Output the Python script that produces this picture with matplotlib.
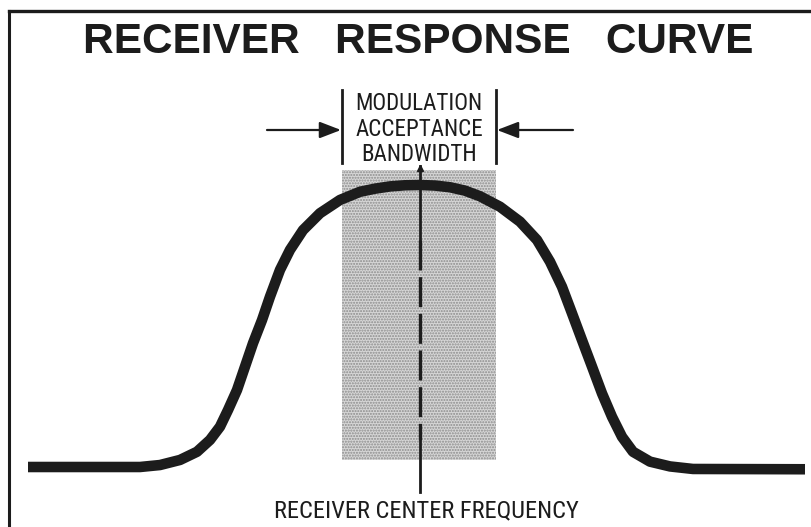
import matplotlib
matplotlib.use("Agg")
import matplotlib.pyplot as plt
from matplotlib.patches import Rectangle
from matplotlib.lines import Line2D

# receiver response (frequency offset from centre, relative response)
freq = [-392, -280, -260, -240, -223, -210, -200, -192, -183, -175, -167, -158, -150,
        -140, -130, -117, -100, -80, -60, -45, -30, -15, 0, 15, 30, 45, 60, 80, 100,
        117, 130, 142, 152, 162, 172, 182, 192, 202, 213, 230, 250, 273, 385]
resp = [0.0, 0.0, 0.007, 0.025, 0.054, 0.096, 0.143, 0.202, 0.273, 0.356, 0.439,
        0.521, 0.604, 0.699, 0.770, 0.840, 0.900, 0.947, 0.976, 0.987, 0.995, 0.999,
        1.0, 0.998, 0.992, 0.980, 0.960, 0.923, 0.870, 0.805, 0.728, 0.639, 0.545,
        0.450, 0.356, 0.261, 0.178, 0.107, 0.054, 0.019, 0.002, -0.007, -0.008]

band_edges = [-78, 76]          # modulation acceptance bandwidth
title = "RECEIVER   RESPONSE   CURVE"
band_label = "MODULATION\nACCEPTANCE\nBANDWIDTH"
centre_label = "RECEIVER CENTER FREQUENCY"

W, H = 811, 527
fig = plt.figure(figsize=(W / 100, H / 100), dpi=100)
fig.patch.set_facecolor("white")
ax = fig.add_axes([0, 0, 1, 1])
ax.set_xlim(-420, W - 420)
# pixel row 467 is the zero line, row 185 is the peak
top_px, base_px = 185, 467
scale = base_px - top_px
ax.set_ylim((base_px - H) / scale, base_px / scale)
ax.axis("off")

def y_of(px):
    return (base_px - px) / scale

narrow = ["Roboto Condensed", "DejaVu Sans"]
wide = ["Liberation Sans", "DejaVu Sans"]
ink = "#1c1c1c"

# frame (top and left edges of the scanned box)
fig.add_artist(Line2D([9 / W, 1], [1 - 11 / H] * 2, color=ink, lw=2.4))
fig.add_artist(Line2D([9 / W] * 2, [0, 1 - 11 / H], color=ink, lw=2.2))

# shaded bandwidth
ax.add_patch(Rectangle((band_edges[0], y_of(460)), band_edges[1] - band_edges[0],
                       y_of(170) - y_of(460), facecolor="#d6d6d6",
                       edgecolor="#8c8c8c", hatch="......", lw=0, zorder=1))

# centre frequency line: solid, dashed through the band, solid again
ax.plot([0, 0], [y_of(166), y_of(240)], color=ink, lw=2.0, zorder=2)
ax.plot([0, 0], [y_of(240), y_of(440)], color=ink, lw=2.4, zorder=2,
        dashes=(9, 2))
ax.plot([0, 0], [y_of(440), y_of(492)], color=ink, lw=2.0, zorder=2)
ax.plot([0], [y_of(168)], marker="^", ms=4, color=ink, zorder=2)

# response curve
ax.plot(freq, resp, color=ink, lw=7.6, solid_joinstyle="round",
        solid_capstyle="butt", zorder=3)

# bandwidth markers
for e in band_edges:
    ax.plot([e, e], [y_of(90), y_of(163)], color=ink, lw=2.0)
ax.annotate("", xy=(band_edges[0] - 1, y_of(130)), xytext=(-153, y_of(130)),
            arrowprops=dict(arrowstyle="-|>,head_length=1.3,head_width=0.5",
                            color=ink, lw=1.6, shrinkA=0, shrinkB=0))
ax.annotate("", xy=(band_edges[1] + 1, y_of(130)), xytext=(153, y_of(130)),
            arrowprops=dict(arrowstyle="-|>,head_length=1.3,head_width=0.5",
                            color=ink, lw=1.6, shrinkA=0, shrinkB=0))

ax.text(-1, y_of(129), band_label, ha="center", va="center", fontsize=16.6,
        family=narrow, color=ink, linespacing=1.12)
ax.text(6, y_of(511), centre_label, ha="center", va="center", fontsize=17.6,
        family=narrow, color=ink)
ax.text(-2, y_of(42), title, ha="center", va="center", fontsize=30.5,
        fontweight="bold", family=wide, color=ink)

fig.savefig("out.png", dpi=100, facecolor="white")
